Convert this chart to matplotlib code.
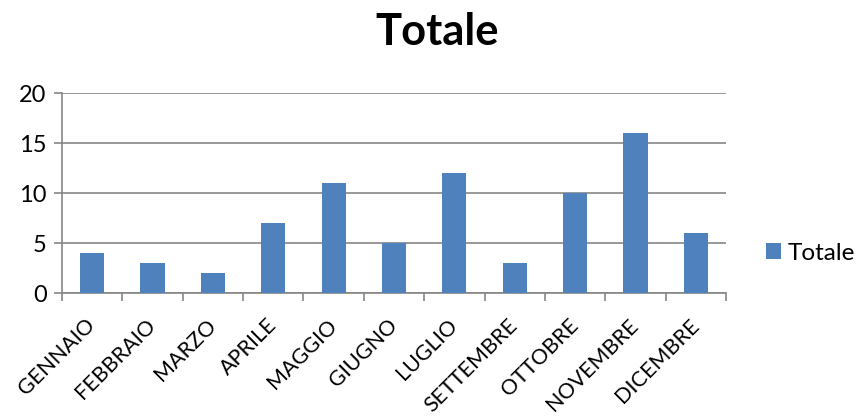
import matplotlib
matplotlib.use("Agg")
import matplotlib.pyplot as plt
import numpy as np

months = ["GENNAIO", "FEBBRAIO", "MARZO", "APRILE", "MAGGIO", "GIUGNO",
          "LUGLIO", "SETTEMBRE", "OTTOBRE", "NOVEMBRE", "DICEMBRE"]
totale = [4, 3, 2, 7, 11, 5, 12, 3, 10, 16, 6]
y_ticks = [0, 5, 10, 15, 20]

plt.rcParams["font.family"] = ["Lato", "DejaVu Sans"]

bar_color = "#4F81BD"
grid_color = "#868686"

fig = plt.figure(figsize=(8.59, 4.17), dpi=100)
ax = fig.add_axes([62 / 859, 1 - 293 / 417, (726 - 62) / 859, 200 / 417])

x = np.arange(len(months))
ax.bar(x, totale, width=0.4, color=bar_color, zorder=3, label="Totale")

ax.set_xlim(-0.5, len(months) - 0.5)
ax.set_ylim(0, 20)
ax.set_yticks(y_ticks)
ax.set_yticklabels([str(v) for v in y_ticks], fontsize=17)
ax.yaxis.grid(True, color=grid_color, linewidth=1.2, zorder=0)

# category labels at bar centres, tick marks on category boundaries
ax.set_xticks(x)
ax.set_xticklabels(months, rotation=45, ha="right", va="center",
                   rotation_mode="anchor", fontsize=15.5)
ax.tick_params(axis="x", length=0, pad=21)
ax.set_xticks(np.arange(-0.5, len(months)), minor=True)
ax.tick_params(axis="x", which="minor", length=6, width=1.2, color=grid_color)
ax.tick_params(axis="y", length=6, width=1.2, color=grid_color, pad=5)

for side in ["top", "right"]:
    ax.spines[side].set_visible(False)
for side in ["left", "bottom"]:
    ax.spines[side].set_color(grid_color)
    ax.spines[side].set_linewidth(1.2)

fig.text(437 / 859, 1 - 32 / 417, "Totale", ha="center", va="center",
         fontsize=31.3, fontweight="bold")

fig.legend(loc="center left", bbox_to_anchor=(766 / 859, 1 - 253 / 417),
           frameon=False, fontsize=17.5, handlelength=0.6, handleheight=0.6,
           handletextpad=0.3, borderaxespad=0, borderpad=0)

fig.savefig("out.png", dpi=100)
